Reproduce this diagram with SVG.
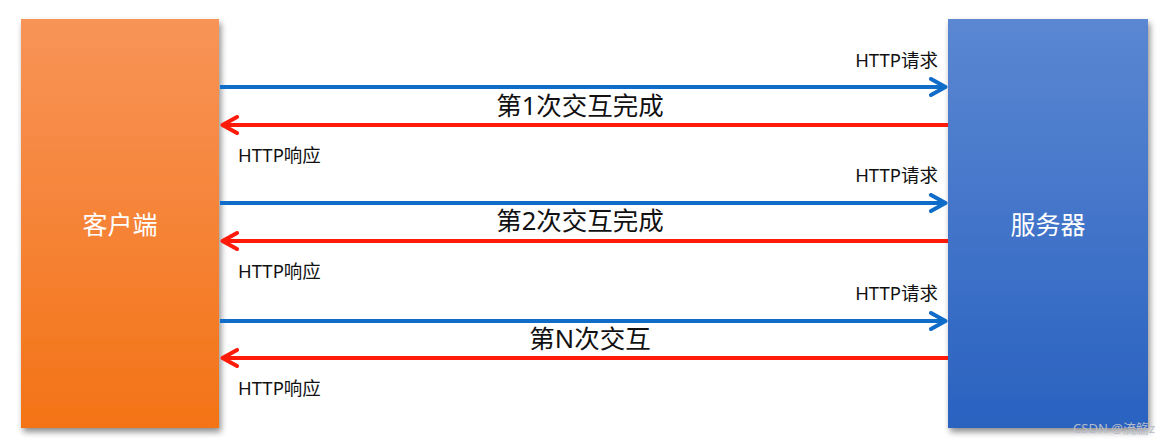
<svg xmlns="http://www.w3.org/2000/svg" width="1170" height="443" viewBox="0 0 1170 443">
<defs>
<linearGradient id="gO" x1="0" y1="0" x2="0" y2="1"><stop offset="0" stop-color="#F89458"/><stop offset="1" stop-color="#F37316"/></linearGradient>
<linearGradient id="gB" x1="0" y1="0" x2="0" y2="1"><stop offset="0" stop-color="#5B87D2"/><stop offset="1" stop-color="#2962C0"/></linearGradient>
<filter id="sh" x="-10%" y="-5%" width="125%" height="115%"><feGaussianBlur in="SourceAlpha" stdDeviation="3"/><feOffset dx="2" dy="4"/><feComponentTransfer><feFuncA type="linear" slope="0.45"/></feComponentTransfer><feMerge><feMergeNode/><feMergeNode in="SourceGraphic"/></feMerge></filter>
<marker id="aB" viewBox="0 0 20 20" refX="18" refY="10" markerWidth="20" markerHeight="20" markerUnits="userSpaceOnUse" orient="auto"><path d="M3,2 L17.5,10 L3,18" fill="none" stroke="#0F6CC9" stroke-width="4" stroke-linecap="round" stroke-linejoin="round"/></marker>
<marker id="aR" viewBox="0 0 20 20" refX="18" refY="10" markerWidth="20" markerHeight="20" markerUnits="userSpaceOnUse" orient="auto"><path d="M3,2 L17.5,10 L3,18" fill="none" stroke="#FF1A0A" stroke-width="4" stroke-linecap="round" stroke-linejoin="round"/></marker>
</defs>
<style>
.box{font-family:"Noto Sans CJK SC","Noto Sans",sans-serif;font-size:25px;fill:#fff;text-anchor:middle}
.lbl{font-family:"Noto Sans","Noto Sans CJK SC",sans-serif;font-size:18.5px;fill:#111}
.big{font-family:"Noto Sans","Noto Sans CJK SC",sans-serif;font-size:25.5px;fill:#111;text-anchor:middle}
.req{stroke:#0F6CC9;stroke-width:4;fill:none}
.res{stroke:#FF1A0A;stroke-width:4;fill:none}
</style>
<rect width="1170" height="443" fill="#fff"/>
<g id="client"><rect x="21" y="19" width="198" height="409" fill="url(#gO)" filter="url(#sh)"/><text class="box" x="120" y="234">客户端</text></g>
<g id="server"><rect x="948" y="19" width="200" height="409" fill="url(#gB)" filter="url(#sh)"/><text class="box" x="1048" y="234">服务器</text></g>
<g id="connectors">
<line class="req" x1="220" y1="87" x2="946" y2="87" marker-end="url(#aB)"/>
<line class="res" x1="948" y1="125" x2="222" y2="125" marker-end="url(#aR)"/>
<line class="req" x1="220" y1="203" x2="946" y2="203" marker-end="url(#aB)"/>
<line class="res" x1="948" y1="241" x2="222" y2="241" marker-end="url(#aR)"/>
<line class="req" x1="220" y1="321" x2="946" y2="321" marker-end="url(#aB)"/>
<line class="res" x1="948" y1="358" x2="222" y2="358" marker-end="url(#aR)"/>
</g>
<g id="labels">
<text class="lbl" x="938" y="67" text-anchor="end">HTTP请求</text>
<text class="big" x="580" y="115">第1次交互完成</text>
<text class="lbl" x="238" y="162">HTTP响应</text>
<text class="lbl" x="938" y="182" text-anchor="end">HTTP请求</text>
<text class="big" x="580" y="230">第2次交互完成</text>
<text class="lbl" x="238" y="278">HTTP响应</text>
<text class="lbl" x="938" y="300" text-anchor="end">HTTP请求</text>
<text class="big" x="590" y="348">第N次交互</text>
<text class="lbl" x="238" y="395">HTTP响应</text>
</g>
<text x="1155" y="433" text-anchor="end" font-family="Noto Sans,Noto Sans CJK SC,sans-serif" font-size="13" fill="#b8bcc8">CSDN @流觞z</text>
</svg>
